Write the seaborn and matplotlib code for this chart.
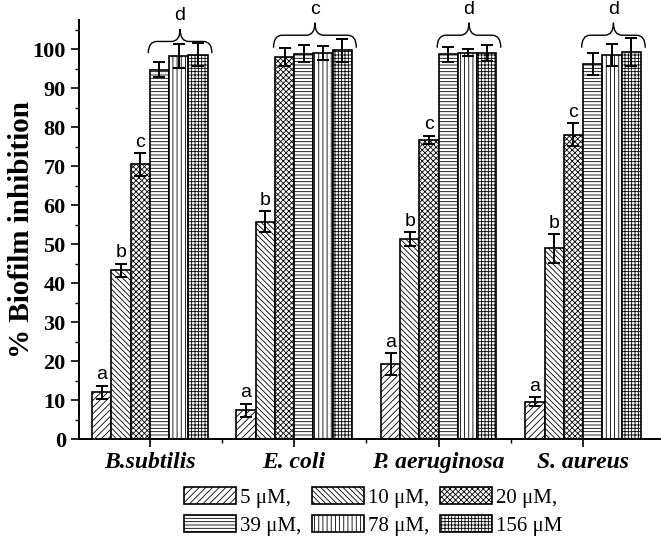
import numpy as np
import pandas as pd
import matplotlib
matplotlib.use('Agg')
import matplotlib.pyplot as plt
from matplotlib.path import Path
from matplotlib.patches import PathPatch, Patch
import seaborn as sns

strains = ['B.subtilis', 'E. coli', 'P. aeruginosa', 'S. aureus']
concs = ['5 μM,', '10 μM,', '20 μM,', '39 μM,', '78 μM,', '156 μM']

# % inhibition, one list per concentration (order follows strains)
c5 = [12.0, 7.4, 19.2, 9.6]
c10 = [43.3, 55.7, 51.2, 48.9]
c20 = [70.5, 98.0, 76.8, 78.1]
c39 = [94.8, 98.9, 98.7, 96.3]
c78 = [98.2, 99.1, 99.1, 98.5]
c156 = [98.6, 99.7, 99.1, 99.3]

e5 = [1.7, 1.7, 2.9, 1.2]
e10 = [1.7, 2.7, 1.8, 3.7]
e20 = [2.9, 2.2, 1.0, 2.9]
e39 = [1.9, 2.2, 1.9, 2.8]
e78 = [3.1, 1.8, 0.9, 2.8]
e156 = [2.9, 3.0, 2.0, 3.5]

# significance letters on single bars (strain, conc index, letter)
letters = [(0, 0, 'a'), (0, 1, 'b'), (0, 2, 'c'),
           (1, 0, 'a'), (1, 1, 'b'),
           (2, 0, 'a'), (2, 1, 'b'), (2, 2, 'c'),
           (3, 0, 'a'), (3, 1, 'b'), (3, 2, 'c')]
# braces over groups of bars (strain, first conc, last conc, letter)
braces = [(0, 3, 5, 'd'), (1, 2, 5, 'c'), (2, 3, 5, 'd'), (3, 3, 5, 'd')]

values = [c5, c10, c20, c39, c78, c156]
errors = [e5, e10, e20, e39, e78, e156]
hatches = ['/////', '\\\\\\\\\\\\', 'xxxxxx', '-----', '||||', '+++++']

rows = []
for conc, vals in zip(concs, values):
    for s, v in zip(strains, vals):
        rows.append({'strain': s, 'conc': conc, 'value': v})
df = pd.DataFrame(rows)

plt.rcParams['hatch.linewidth'] = 0.6
serif = ['Liberation Serif', 'DejaVu Serif']
sans = ['Liberation Sans', 'DejaVu Sans']

fig, ax = plt.subplots(figsize=(6.61, 5.41), dpi=100)
fig.subplots_adjust(left=0.1195, right=0.998, bottom=0.1885, top=0.963)

sns.barplot(data=df, x='strain', y='value', hue='conc', palette=['white'] * 6,
            errorbar=None, width=0.8, edgecolor='black', linewidth=1.2, ax=ax)

for cont, h, errs in zip(ax.containers, hatches, errors):
    xs = []
    for bar in cont:
        bar.set_hatch(h)
        xs.append(bar.get_x() + bar.get_width() / 2)
    hs = [b.get_height() for b in cont]
    ax.errorbar(xs, hs, yerr=errs, fmt='none', ecolor='black', elinewidth=1.4,
                capsize=4, capthick=1.4, zorder=5)

bw = ax.containers[0][0].get_width()

for si, ci, lt in letters:
    bar = ax.containers[ci][si]
    x = bar.get_x() + bw / 2
    y = bar.get_height() + errors[ci][si] + 0.6
    ax.text(x, y, lt, ha='center', va='bottom', fontsize=14, family=sans)

for si, c0, c1, lt in braces:
    x0 = ax.containers[c0][si].get_x() - 0.01
    x1 = ax.containers[c1][si].get_x() + bw + 0.03
    xm = (x0 + x1) / 2
    if si == 0:
        ye, ym, yt = 99.0, 102.0, 105.2
    else:
        ye, ym, yt = 100.4, 103.6, 106.8
    r = 0.06
    verts = [(x0, ye), (x0, ym), (x0 + r, ym), (xm - r, ym), (xm, ym), (xm, yt),
             (xm, ym), (xm + r, ym), (x1 - r, ym), (x1, ym), (x1, ye)]
    codes = [Path.MOVETO, Path.CURVE3, Path.CURVE3, Path.LINETO, Path.CURVE3, Path.CURVE3,
             Path.CURVE3, Path.CURVE3, Path.LINETO, Path.CURVE3, Path.CURVE3]
    ax.add_patch(PathPatch(Path(verts, codes), fill=False, lw=1.0, color='black',
                           clip_on=False))
    ax.text(xm, yt + 1.2, lt, ha='center', va='bottom', fontsize=14,
            family=sans, clip_on=False)

ax.set_ylim(0, 107.5)
ax.set_xlim(-0.49, 3.53)
ax.set_yticks(np.arange(0, 101, 10))
ax.set_yticks(np.arange(5, 106, 10), minor=True)
ax.set_xticks([0.5, 1.5, 2.5], minor=True)
ax.tick_params(axis='both', which='major', direction='out', length=6, width=1.2)
ax.tick_params(axis='both', which='minor', direction='out', length=3, width=1.0)
for lab in ax.get_yticklabels():
    lab.set_family(serif)
    lab.set_fontweight('bold')
    lab.set_fontsize(16)
ax.set_xticks(range(len(strains)))
ax.set_xticklabels(strains, family=serif, fontweight='bold', style='italic', fontsize=17)
ax.set_xlabel('')
ax.set_ylabel('% Biofilm inhibition', family=serif, fontweight='bold', fontsize=21)
ax.yaxis.set_label_coords(-0.075, 0.5)

for side in ['top', 'right']:
    ax.spines[side].set_visible(False)
for side in ['left', 'bottom']:
    ax.spines[side].set_linewidth(1.4)

ax.get_legend().remove()
handles = [Patch(facecolor='white', edgecolor='black', hatch=h, linewidth=1.2) for h in hatches]
# legend fills column-wise, so reorder to read row-wise like the original
order = [0, 3, 1, 4, 2, 5]
fig.legend([handles[i] for i in order], [concs[i] for i in order], loc='center',
           bbox_to_anchor=(0.565, 0.0545), ncol=3, frameon=False,
           prop={'family': serif, 'size': 15}, handlelength=2.5, handleheight=0.9,
           handletextpad=0.2, columnspacing=0.5, labelspacing=0.35, borderpad=0)

fig.savefig('out.png', dpi=100)
